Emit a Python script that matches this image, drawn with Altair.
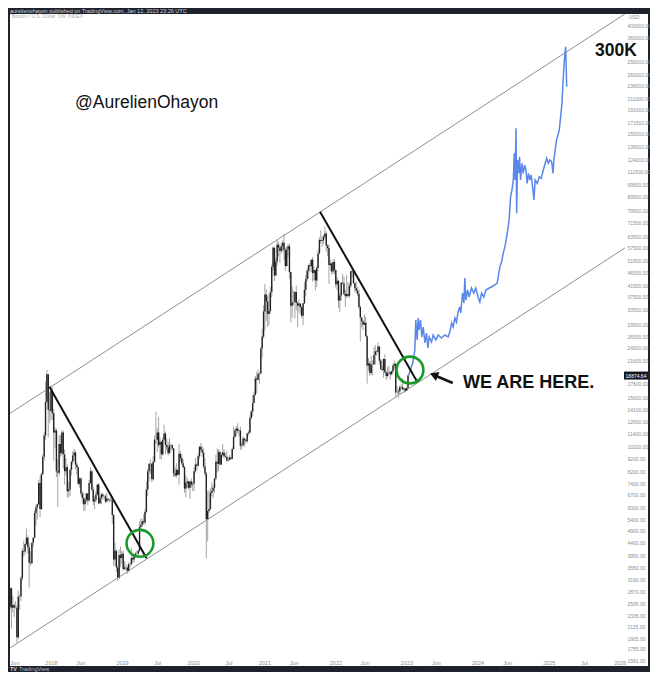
import altair as alt
import pandas as pd

# ---------------- data ----------------
HIST_START = "2017-05-01"          # weekly candles, one per Monday
FIRST_OPEN = 1350

close_2017 = [1550, 1770, 2050, 2190, 2520, 2960, 2500, 2560, 2500, 2500, 1930, 2750, 2760, 3230, 4100, 4080, 4350, 4600, 4230, 3700, 3680, 4400, 4600, 5700, 6000, 6150, 7400, 5900, 8000, 9300, 11200, 15000, 19100, 14000, 13900]
high_2017 = [1600, 1840, 2080, 2760, 2530, 2980, 2980, 2770, 2600, 2650, 2560, 2900, 2800, 3290, 4200, 4480, 4360, 4980, 4690, 4400, 4090, 4400, 4620, 5850, 6140, 6200, 7600, 7880, 8100, 9500, 11500, 17900, 19800, 19100, 16400]
low_2017 = [1345, 1550, 1700, 1850, 2100, 2460, 2080, 2400, 2300, 2480, 1840, 1900, 2450, 2650, 3170, 3900, 3970, 4300, 4000, 2980, 3600, 3660, 4240, 4560, 5100, 5380, 6100, 5500, 5850, 7930, 9000, 10800, 14900, 11000, 12500]

close_2018 = [16500, 13600, 11500, 11700, 8200, 8100, 10400, 9600, 11500, 9500, 8200, 8500, 6900, 7000, 8300, 8900, 9400, 9650, 8700, 8500, 7350, 7700, 6750, 6500, 6150, 6400, 6750, 6350, 7400, 8200, 7000, 6300, 6400, 6700, 7300, 6200, 6500, 6700, 6600, 6600, 6300, 6450, 6400, 6400, 6350, 5600, 3800, 4100, 3550, 3250, 3950, 3850, 4000]
high_2018 = [17250, 17100, 14100, 12000, 11900, 9100, 11250, 11200, 11700, 11700, 9900, 9180, 8700, 7500, 8400, 9000, 9750, 9990, 9800, 8880, 8550, 7780, 7770, 6900, 6800, 6500, 6800, 6800, 7600, 8500, 8300, 7150, 6600, 6900, 7350, 7400, 6600, 6800, 6800, 6650, 6700, 6800, 6500, 6450, 6550, 6450, 5650, 4400, 4150, 3600, 4150, 4250, 4100]
low_2018 = [12800, 12800, 9000, 10000, 7800, 6000, 7900, 9300, 9400, 8400, 7300, 7900, 6500, 6550, 6600, 7900, 8700, 9000, 8350, 7950, 7250, 7100, 6640, 6200, 5800, 5800, 6250, 6100, 6300, 7350, 6900, 6100, 5900, 6250, 6650, 6150, 6180, 6150, 6400, 6450, 6200, 6250, 6350, 6250, 6300, 5200, 3600, 3600, 3400, 3150, 3200, 3550, 3650]

close_2019 = [3500, 3550, 3550, 3450, 3650, 3650, 3850, 3800, 3950, 4000, 4000, 4100, 5050, 5150, 5300, 5250, 5750, 7000, 8200, 8750, 8750, 7650, 8900, 10800, 10800, 11500, 10300, 10600, 9500, 10800, 11400, 10300, 10100, 9600, 10300, 10300, 10000, 8050, 7900, 8300, 7950, 9550, 9200, 8800, 8500, 7050, 7400, 7500, 7100, 7500, 7300, 7350]
high_2019 = [4100, 3750, 3650, 3600, 3700, 3700, 4200, 3900, 3970, 4050, 4100, 4150, 5300, 5450, 5400, 5650, 5900, 7500, 8350, 8800, 9100, 8800, 9350, 11200, 13800, 12000, 13200, 11000, 10650, 11000, 12300, 11600, 10900, 10600, 10950, 10450, 10350, 10050, 8500, 8800, 8400, 10400, 9800, 9500, 9100, 8600, 7900, 7750, 7550, 7550, 7700, 7500]
low_2019 = [3450, 3480, 3450, 3350, 3400, 3550, 3620, 3700, 3700, 3850, 3950, 3900, 4050, 4900, 5050, 5150, 5150, 5700, 6600, 7500, 8000, 7450, 7550, 8850, 10400, 9700, 10100, 9100, 9100, 9400, 10700, 9500, 9800, 9400, 9550, 9850, 9800, 7800, 7800, 7750, 7900, 7300, 8900, 8650, 8400, 6800, 6550, 7100, 7000, 6450, 7100, 6900]

close_2020 = [8200, 8700, 8600, 9350, 10150, 9900, 9650, 8550, 8050, 5400, 5800, 5900, 6800, 6900, 7100, 7700, 8900, 8750, 9700, 8700, 9450, 9650, 9350, 9300, 9000, 9050, 9250, 9150, 9950, 11050, 11700, 11900, 11650, 11700, 10250, 10300, 10900, 10750, 10650, 11400, 11500, 13050, 13800, 14850, 15950, 18400, 18200, 19150, 19250, 23900, 26500, 33000]
high_2020 = [8450, 9200, 8800, 9600, 10200, 10500, 10200, 10000, 9200, 8150, 6900, 6950, 7100, 7450, 7300, 7750, 9450, 10000, 9950, 9850, 9650, 10400, 9950, 9600, 9800, 9300, 9450, 9300, 10100, 12100, 11900, 12150, 12450, 11750, 12100, 10550, 11150, 10950, 10900, 11450, 11700, 13350, 14000, 15950, 16450, 18800, 19500, 19900, 19400, 24200, 28400, 34800]
low_2020 = [6900, 8100, 8300, 8550, 9150, 9700, 9300, 8400, 7850, 3850, 4450, 5700, 5850, 6600, 6500, 6800, 7600, 8100, 8200, 8650, 8650, 9300, 9150, 9200, 8900, 8950, 9000, 9050, 9100, 9900, 11000, 11150, 11400, 11100, 9900, 9900, 10200, 10150, 10400, 10550, 11200, 11400, 12900, 13250, 14800, 15850, 16200, 18100, 17600, 19000, 22000, 26100]

close_2021 = [38200, 36000, 32300, 33100, 39000, 48600, 57500, 45150, 51000, 59000, 57500, 55900, 58200, 60000, 56250, 49000, 56600, 58250, 46500, 34700, 35700, 35800, 39100, 35600, 34700, 35300, 34250, 31800, 35400, 39900, 43800, 47000, 49300, 48900, 51800, 46100, 47300, 43200, 48200, 54700, 61500, 61000, 61300, 63300, 65000, 58600, 57300, 49400, 50100, 46700, 50800, 47300]
high_2021 = [41950, 40100, 37850, 38500, 40950, 49700, 58300, 57600, 52600, 61800, 60650, 58500, 60000, 61300, 64850, 57500, 58000, 59500, 59600, 46650, 40900, 39500, 39400, 41300, 36000, 36600, 35500, 34650, 35500, 42600, 45300, 48100, 49600, 50500, 51900, 52950, 48850, 47400, 49200, 56600, 62900, 67000, 63700, 64300, 69000, 66300, 59300, 59100, 51900, 50500, 51900, 52100]
low_2021 = [28000, 30400, 28800, 29300, 32300, 37400, 47100, 43000, 44950, 49300, 53250, 50300, 54700, 55500, 51500, 47000, 48750, 53000, 43800, 30000, 31200, 34800, 31000, 33300, 28800, 32700, 32100, 31100, 29300, 35200, 37600, 42800, 43950, 46350, 46500, 42800, 43400, 39600, 40800, 46900, 54300, 59600, 58000, 59400, 62300, 55600, 53300, 42000, 47000, 45500, 45600, 45700]

close_2022 = [41800, 43100, 36300, 37900, 42400, 42200, 38400, 37700, 38400, 37800, 41300, 46800, 46400, 42200, 40400, 39500, 38500, 34300, 31300, 30300, 29400, 29900, 26600, 20600, 21000, 19300, 20800, 20800, 22600, 23300, 23200, 24300, 21500, 20000, 19800, 21800, 19400, 18800, 19300, 19400, 19100, 19600, 20600, 20900, 16300, 16300, 16450, 17100, 17100, 16750, 16850, 16550]
high_2022 = [47600, 44500, 43500, 38900, 42600, 45850, 44750, 39800, 45400, 42600, 42400, 46900, 48200, 47500, 42400, 42900, 40800, 40000, 34800, 31400, 30600, 32200, 31600, 26800, 22000, 21500, 22400, 21500, 24200, 24600, 23600, 25200, 24400, 21800, 20600, 21900, 22700, 19700, 20400, 20500, 19700, 19700, 21000, 21500, 21000, 17200, 16800, 17400, 17450, 18400, 17000, 16950]
low_2022 = [40600, 39700, 34000, 32900, 36300, 41700, 38000, 34300, 37200, 37200, 37200, 40500, 44300, 41900, 39200, 38600, 37600, 33700, 25400, 28700, 28000, 29300, 26500, 17600, 19700, 18800, 19000, 18900, 20700, 20800, 22400, 22700, 20800, 19800, 19600, 18500, 19300, 18150, 18500, 19100, 18200, 18900, 19300, 20000, 15600, 16000, 15500, 16000, 16700, 16600, 16250, 16300]

close_2023 = [16950, 18874.64]
high_2023 = [17050, 19000]
low_2023 = [16500, 16900]

# projected path (blue)
proj_dates = [
    "2023-01-12", "2023-02-02", "2023-02-13", "2023-02-18", "2023-02-25", "2023-03-02", "2023-03-07",
    "2023-03-14", "2023-03-21", "2023-03-28", "2023-04-06", "2023-04-14", "2023-04-21", "2023-04-28",
    "2023-05-10", "2023-05-18", "2023-06-01", "2023-06-13", "2023-06-30", "2023-07-17", "2023-08-03",
    "2023-08-12", "2023-08-21", "2023-08-29", "2023-09-07", "2023-09-15", "2023-09-23", "2023-10-02",
    "2023-10-07", "2023-10-16", "2023-10-23", "2023-10-28", "2023-11-02", "2023-11-11", "2023-11-19",
    "2023-12-01", "2023-12-13", "2023-12-23", "2024-01-04", "2024-01-13", "2024-01-22", "2024-02-02",
    "2024-02-13", "2024-03-01", "2024-03-13", "2024-03-30", "2024-04-11", "2024-04-25", "2024-05-04",
    "2024-05-12", "2024-05-21", "2024-05-30", "2024-06-07", "2024-06-12", "2024-06-19", "2024-06-26",
    "2024-07-03", "2024-07-08", "2024-07-12", "2024-07-17", "2024-07-20", "2024-07-25", "2024-07-30",
    "2024-08-04", "2024-08-09", "2024-08-16", "2024-08-23", "2024-08-30", "2024-09-06", "2024-09-12",
    "2024-09-19", "2024-09-26", "2024-10-03", "2024-10-10", "2024-10-17", "2024-10-23", "2024-11-03",
    "2024-11-13", "2024-11-23", "2024-12-04", "2024-12-14", "2024-12-21", "2024-12-30", "2025-01-07",
    "2025-01-16", "2025-01-23", "2025-01-28", "2025-02-03", "2025-02-10", "2025-02-17", "2025-02-24",
    "2025-03-03", "2025-03-10", "2025-03-15", "2025-03-20", "2025-03-25", "2025-03-29", "2025-04-01",
    "2025-04-03",
]
proj_values = [
    18874, 21060, 23580, 30620, 25730, 31160, 28070,
    30620, 26410, 28810, 25070, 27340, 23990, 26410,
    25280, 26870, 25730, 26870, 26180, 26870, 26410,
    27580, 29830, 28810, 31160, 30090, 32830, 34300,
    32550, 38740, 35510, 44140, 36450, 39770, 37420,
    40470, 38740, 40470, 37420, 35820, 38740, 37420,
    39770, 40470, 40820, 41540, 42260, 48710, 50880,
    54750, 58010, 63260, 69020, 74270, 89640, 95030,
    103700, 130800, 103700, 162700, 77580, 123400, 109900,
    127000, 103700, 119900, 109900, 118100, 113100, 100700,
    109900, 103700, 108300, 97790, 87090, 103700, 100700,
    106700, 105200, 113100, 119900, 125300, 119900, 123400,
    121600, 109900, 125300, 134600, 146900, 153400, 160300,
    180000, 202200, 240700, 278200, 312600, 331100, 270300,
    233700,
]

# channel lines
channel_dates = ["2017-04-29", "2026-01-27", "2017-05-04", "2026-01-27"]
channel_prices = [13040, 440230, 1699, 57340]
channel_names = ["upper", "upper", "lower", "lower"]

# black down-trend lines
trend_dates = ["2017-12-24", "2019-05-07", "2021-10-14", "2023-02-25"]
trend_prices = [17130, 3841, 78680, 17890]
trend_names = ["first", "first", "second", "second"]

# green circles
circle_dates = ["2019-04-03", "2023-01-19"]
circle_prices = [4378, 19810]

# arrow (tail, head)
arrow_dates = ["2023-08-27", "2023-05-22"]
arrow_prices = [17690, 18970]

last_price = 18874.64
last_price_label = "18874.64"

# axis labels
y_ticks = [400000, 360000, 290000, 260000, 236000, 211000, 191000, 171500, 155000, 139000, 124000, 111500, 99500, 89500, 79500, 71500, 63500, 57500, 51500, 46500, 41500, 37500, 33500, 29500, 26500, 24000, 21600, 17600, 15600, 14100, 12600, 11400, 10200, 9200, 8200, 7400, 6700, 6000, 5400, 4900, 4400, 3950, 3550, 3190, 2870, 2595, 2335, 2115, 1905, 1755, 1581]
x_ticks = ["2017-06-05", "2018-01-01", "2018-06-01", "2019-01-01", "2019-07-01", "2020-01-01", "2020-07-01", "2021-01-01", "2021-06-01", "2022-01-01", "2022-06-01", "2023-01-01", "2023-06-01", "2024-01-01", "2024-06-01", "2025-01-01", "2025-07-01", "2026-01-01"]

X_DOMAIN = ["2017-06-04T12:00:00", "2026-05-25T19:00:00"]
Y_DOMAIN = [1503.6, 440230]

# ---------------- tables ----------------
closes = close_2017 + close_2018 + close_2019 + close_2020 + close_2021 + close_2022 + close_2023
highs = high_2017 + high_2018 + high_2019 + high_2020 + high_2021 + high_2022 + high_2023
lows = low_2017 + low_2018 + low_2019 + low_2020 + low_2021 + low_2022 + low_2023
dates = pd.date_range(HIST_START, periods=len(closes), freq="7D").strftime("%Y-%m-%d")
opens = [FIRST_OPEN] + closes[:-1]
hist = pd.DataFrame({"date": dates, "open": opens, "close": closes, "high": highs, "low": lows})

proj = pd.DataFrame({"date": proj_dates, "price": proj_values})
channel = pd.DataFrame({"date": channel_dates, "price": channel_prices, "line": channel_names})
trend = pd.DataFrame({"date": trend_dates, "price": trend_prices, "seg": trend_names})
circles = pd.DataFrame({"date": circle_dates, "price": circle_prices})
arrow = pd.DataFrame({"date": arrow_dates, "price": arrow_prices})
arrow_head = arrow.iloc[[1]]
tag = pd.DataFrame({"price": [last_price], "label": [last_price_label]})


def ms(d):
    return int(pd.Timestamp(d).tz_localize("UTC").timestamp() * 1000)


AXIS_GRAY = "#8b8e95"
FONT = "Liberation Sans"

X_SCALE = alt.Scale(type="utc", domain=[ms(d) for d in X_DOMAIN], nice=False)
Y_SCALE = alt.Scale(type="log", domain=Y_DOMAIN, nice=False)

X_AXIS = alt.Axis(
    values=[ms(d) for d in x_ticks],
    labelExpr="utcFormat(datum.value, '%m') == '01' ? utcFormat(datum.value, '%Y') : utcFormat(datum.value, '%b')",
    orient="bottom", offset=-4, ticks=False, tickSize=0, domain=False, grid=False,
    labelPadding=0, labelBaseline="middle", labelFontSize=5.5, labelColor=AXIS_GRAY,
    labelFont=FONT, labelFlush=3, labelOverlap=False, title=None,
)
Y_AXIS = alt.Axis(
    values=y_ticks, format=".2f", orient="right", offset=-21, ticks=False, tickSize=0,
    domain=False, grid=False, labelPadding=0, labelAlign="left", labelBaseline="middle",
    labelFontSize=5, labelColor=AXIS_GRAY, labelFont=FONT, labelOverlap=False,
    labelFlush=False, title=None,
)


def X(field="date:T"):
    return alt.X(field, scale=X_SCALE, axis=X_AXIS, title=None)


def Y(field):
    return alt.Y(field, scale=Y_SCALE, axis=Y_AXIS, title=None)


channel_layer = alt.Chart(channel).mark_line(color="#8e8e8e", strokeWidth=1, clip=True).encode(
    x=X(), y=Y("price:Q"), detail="line:N"
)
wick_layer = alt.Chart(hist).mark_rule(color="#a4a4a4", strokeWidth=1, clip=True).encode(
    x=X(), y=Y("low:Q"), y2="high:Q"
)
body_layer = alt.Chart(hist).mark_rule(color="#222222", strokeWidth=1.4, clip=True).encode(
    x=X(), y=Y("open:Q"), y2="close:Q"
)
proj_layer = alt.Chart(proj).mark_line(color="#5a87ea", strokeWidth=1.5, clip=True).encode(
    x=X(), y=Y("price:Q")
)
trend_layer = alt.Chart(trend).mark_line(color="#111111", strokeWidth=2, clip=True).encode(
    x=X(), y=Y("price:Q"), detail="seg:N"
)
circle_layer = alt.Chart(circles).mark_point(
    shape="circle", filled=False, color="#1b9a2c", strokeWidth=2.6, size=720, opacity=1
).encode(x=X(), y=Y("price:Q"))
arrow_layer = alt.Chart(arrow).mark_line(color="#111111", strokeWidth=2.5).encode(
    x=X(), y=Y("price:Q")
)
arrow_head_layer = alt.Chart(arrow_head).mark_point(
    shape="triangle-left", filled=True, color="#111111", size=90, angle=22, opacity=1
).encode(x=X(), y=Y("price:Q"))

tag_box = alt.Chart(tag).mark_tick(color="#131722", size=24, thickness=8, opacity=1).encode(
    x=alt.value(626), y=Y("price:Q")
)
tag_text = alt.Chart(tag).mark_text(color="white", fontSize=5, font=FONT, align="center", baseline="middle").encode(
    x=alt.value(626), y=Y("price:Q"), text="label:N"
)


def label(text, x, y, size, color="#111111", weight="normal", align="left", baseline="middle"):
    return alt.Chart(pd.DataFrame({"t": [text]})).mark_text(
        fontSize=size, font=FONT, fontWeight=weight, color=color, align=align, baseline=baseline
    ).encode(x=alt.value(x), y=alt.value(y), text="t:N")


texts = [
    label("@AurelienOhayon", 65, 89, 17.5),
    label("300K", 585, 37, 17.5, weight="bold"),
    label("WE ARE HERE.", 453, 369, 18, weight="bold"),
    label("USD", 624, 3, 5, color=AXIS_GRAY, align="center"),
    label("Bitcoin / U.S. Dollar, 1W, INDEX", 2, 2, 5, color="#a9acb3"),
    label("aurelienohayon published on TradingView.com, Jan 12, 2023 23:26 UTC", 0, -3, 5.5, color="#d1d4dc"),
    label("TV", 0, 655, 5.5, color="#d1d4dc", weight="bold"),
    label("TradingView", 9, 655, 5.5, color="#b8bbc3"),
]

chart = alt.layer(
    channel_layer, wick_layer, body_layer, proj_layer, trend_layer,
    circle_layer, arrow_layer, arrow_head_layer, tag_box, tag_text, *texts
).properties(
    width=638,
    height=652,
    background="#1e222d",
    padding={"left": 2, "right": 2, "top": 6, "bottom": 6},
    autosize=alt.AutoSizeParams(type="none"),
).configure_view(fill="white", stroke="white", strokeWidth=0)

chart.save("out.html", embed_options={"renderer": "svg", "actions": False})
